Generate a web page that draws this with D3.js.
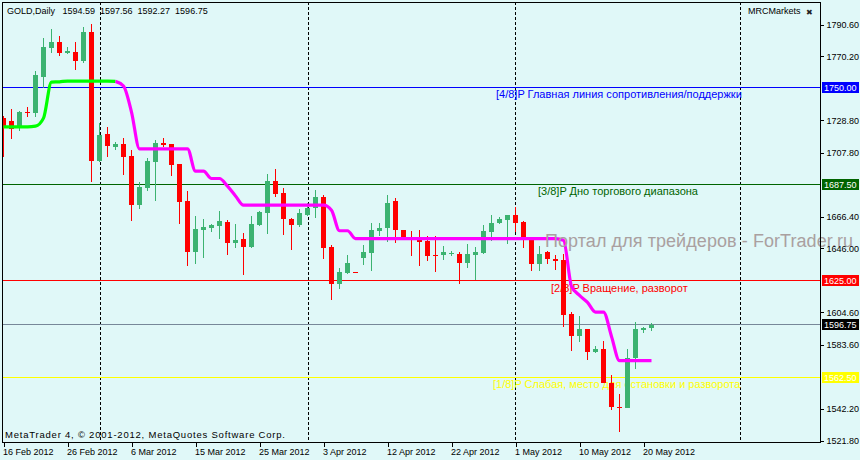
<!DOCTYPE html>
<html><head><meta charset="utf-8">
<script src="https://cdn.jsdelivr.net/npm/d3@7"></script>
<style>
html,body{margin:0;padding:0;background:#e0f8f8;}
svg{display:block;}
text{font-family:"Liberation Sans",Arial,sans-serif;}
</style></head><body>
<svg id="chart" width="860" height="460"></svg>
<script>
// ---------------- DATA ----------------
const symbolTitle = "GOLD,Daily";
const lastQuote = [1594.59, 1597.56, 1592.27, 1596.75]; // O H L C of last bar
const openP = [1730.21,1728.27,1723.74,1734.2,1733.64,1756.95,1775.72,1779.41,1772.09,1773.13,
1767.11,1785.88,1702.38,1719.86,1711.64,1713.39,1705.62,1673.90,1685.10,1701.74,
1714.23,1713.39,1700.44,1676.49,1643.68,1657.92,1659.21,1660.31,1662.90,1649.50,
1651.90,1646.91,1660.96,1668.92,1689.44,1681.87,1665.29,1660.96,1667.43,1672.41,
1679.28,1646.91,1623.22,1630.08,1630.99,1639.79,1643.03,1657.27,1659.21,1676.49,
1657.72,1653.00,1651.70,1650.60,1641.54,1641.99,1642.84,1642.64,1636.56,1641.99,
1643.03,1656.62,1662.45,1664.65,1667.43,1662.90,1652.35,1635.72,1643.68,1639.41,
1638.30,1603.81,1589.11,1593.64,1578.95,1580.70,1558.89,1543.48,1542.97,1575.07,
1593.45,1594.59];
const highP = [1731.51,1736.04,1734.75,1737.33,1760.83,1782.19,1787.63,1783.29,1776.36,1779.21,
1789.31,1791.06,1726.78,1724.58,1714.87,1717.27,1709.50,1688.98,1704.13,1715.97,
1717.27,1713.70,1700.80,1682.97,1666.78,1665.29,1661.61,1670.02,1664.65,1662.06,
1656.23,1666.78,1670.02,1693.97,1697.20,1684.71,1665.70,1671.31,1675.20,1683.61,
1680.83,1648.01,1633.58,1641.54,1630.99,1648.47,1662.71,1662.71,1680.38,1678.63,
1658.00,1657.27,1657.72,1653.84,1653.84,1647.37,1644.32,1643.68,1649.11,1646.91,
1660.96,1667.88,1666.33,1667.80,1672.80,1663.55,1653.39,1647.37,1644.10,1641.54,
1642.19,1604.84,1602.25,1593.96,1582.64,1585.88,1564.32,1552.03,1580.70,1598.37,
1594.90,1597.56];
const lowP = [1704.97,1716.62,1721.80,1730.86,1731.06,1749.44,1772.09,1770.54,1771.96,1761.28,
1765.62,1688.98,1702.00,1705.17,1709.50,1693.32,1663.74,1671.31,1682.97,1676.69,
1711.64,1692.87,1661.61,1634.62,1636.17,1639.79,1656.62,1651.90,1641.54,1646.52,
1628.60,1646.40,1660.64,1655.13,1679.28,1654.49,1644.78,1659.86,1667.10,1665.94,
1639.41,1612.41,1619.99,1629.70,1630.34,1635.07,1631.38,1654.03,1650.15,1649.50,
1651.25,1641.09,1634.42,1637.85,1630.73,1638.30,1640.89,1623.22,1633.58,1625.36,
1642.51,1650.80,1662.06,1649.11,1656.62,1646.52,1631.38,1631.38,1635.72,1631.83,
1595.13,1579.60,1585.42,1574.03,1578.30,1558.70,1541.67,1527.17,1542.50,1567.75,
1591.25,1592.27];
const closeP = [1723.74,1723.09,1734.10,1734.0,1758.05,1776.36,1779.41,1772.09,1773.58,1767.11,
1785.88,1702.58,1719.21,1712.29,1713.58,1705.17,1673.90,1685.75,1702.38,1714.23,
1712.74,1699.99,1676.04,1643.68,1658.37,1659.66,1660.96,1663.55,1649.50,1651.25,
1646.91,1662.06,1669.37,1689.44,1681.22,1664.84,1661.15,1668.92,1672.41,1679.28,
1646.27,1623.09,1630.73,1636.56,1630.34,1643.68,1657.72,1659.47,1675.65,1658.18,
1652.74,1651.70,1650.15,1641.09,1641.09,1643.68,1643.16,1636.82,1642.19,1643.68,
1657.08,1662.71,1665.29,1667.43,1662.71,1652.35,1636.17,1642.19,1639.41,1637.85,
1603.16,1589.31,1593.64,1578.95,1581.15,1558.89,1543.35,1543.16,1575.33,1593.64,
1594.60,1596.75];
// trend-line indicator value per bar
const trendLine = [1724.58,1724.58,1724.58,1724.58,1725.03,1730.21,1753.52,1753.70,1754.16,1754.16,
1754.16,1754.16,1754.16,1754.16,1753.96,1750.93,1734.10,1710.34,1710.34,1710.34,
1710.34,1710.34,1710.34,1710.34,1695.91,1695.91,1691.18,1691.18,1686.20,1679.92,
1673.90,1673.90,1673.90,1673.90,1673.90,1673.90,1673.90,1673.90,1673.90,1673.90,
1673.90,1670.67,1657.40,1657.40,1652.35,1652.35,1652.35,1652.35,1652.35,1652.35,
1652.35,1652.35,1652.35,1652.35,1652.35,1652.35,1652.35,1652.35,1652.35,1652.35,
1652.35,1652.35,1652.35,1652.35,1652.35,1652.35,1652.35,1652.35,1652.35,1652.35,
1651.25,1621.48,1615.65,1611.12,1604.84,1604.84,1589.11,1573.39,1573.39,1573.39,
1573.39,1573.39];
const trendUpLastBar = 14; // up-trend (green) up to this bar, down-trend (magenta) after
const xTickBars = [0,8,16,24,32,40,48,56,64,72,80];
const xTickLabels = ["16 Feb 2012","26 Feb 2012","6 Mar 2012","15 Mar 2012","25 Mar 2012","3 Apr 2012",
"12 Apr 2012","22 Apr 2012","1 May 2012","10 May 2012","20 May 2012"];
const yTickValues = [1790.60,1770.20,1728.80,1707.80,1666.40,1646.00,1604.60,1583.60,1542.20,1521.80];
const separatorBars = [12, 38, 64, 92.1];
const levelPrices = [1750.00, 1687.50, 1625.00, 1562.50];
const levelLabels = ["[4/8]P Главная линия сопротивления/поддержки","[3/8]P Дно торгового диапазона",
"[2/8]P Вращение, разворот","[1/8]P Слабая, место для остановки и разворота"];
const bidPrice = 1596.75;
const brokerName = "MRCMarkets";
const watermark = "Портал для трейдеров - ForTrader.ru";
const copyrightText = "MetaTrader 4, © 2001-2012, MetaQuotes Software Corp.";

// ---------------- STYLE / LAYOUT ----------------
const BG = "#e0f8f8", BULL = "#3cb371", BEAR = "#ff0000";
const levelColors = ["#0000ff", "#006400", "#ff0000", "#ffff00"];
const levelTextX = [496, 538, 551, 493];
const L = 2, T = 2, R = 820, B = 442;

const svg = d3.select("#chart");
svg.append("rect").attr("width", 860).attr("height", 460).attr("fill", BG);
svg.append("defs").append("clipPath").attr("id", "pc")
  .append("rect").attr("x", L + 1).attr("y", T + 1).attr("width", R - L - 1).attr("height", B - T - 1);

const x = d3.scaleLinear().domain([0, 81]).range([3.5, 651.5]);
const y = d3.scaleLinear().domain([1521.8, 1790.6]).range([440.5, 24.7]);
const bars = d3.range(openP.length).map(i => ({i, o: openP[i], h: highP[i], l: lowP[i], c: closeP[i]}));

const g = svg.append("g").attr("clip-path", "url(#pc)");

// period separators
g.selectAll("line.sep").data(separatorBars).join("line")
  .attr("x1", d => Math.round(x(d)) + 0.5).attr("x2", d => Math.round(x(d)) + 0.5)
  .attr("y1", T).attr("y2", B)
  .attr("stroke", "#000").attr("stroke-width", 1).attr("stroke-dasharray", "3,2");

// horizontal levels
const rowY = v => Math.floor(y(v)) + 0.5;
g.selectAll("line.lvl").data(levelPrices).join("line")
  .attr("x1", L).attr("x2", R).attr("y1", d => rowY(d)).attr("y2", d => rowY(d))
  .attr("stroke", (d, k) => levelColors[k]).attr("stroke-width", 1);
g.append("line").attr("x1", L).attr("x2", R).attr("y1", rowY(bidPrice)).attr("y2", rowY(bidPrice))
  .attr("stroke", "#778899").attr("stroke-width", 1);

g.selectAll("text.lvl").data(levelPrices).join("text")
  .attr("x", (d, k) => levelTextX[k]).attr("y", d => y(d) + 10.8)
  .attr("fill", (d, k) => levelColors[k]).attr("font-size", "11px")
  .text((d, k) => levelLabels[k]);

// candles
const cg = g.append("g").attr("shape-rendering", "crispEdges");
cg.selectAll("line.wick").data(bars).join("line")
  .attr("x1", d => x(d.i)).attr("x2", d => x(d.i))
  .attr("y1", d => y(d.h)).attr("y2", d => y(d.l))
  .attr("stroke", d => d.c >= d.o ? BULL : BEAR).attr("stroke-width", 1);
cg.selectAll("rect.body").data(bars).join("rect")
  .attr("x", d => x(d.i) - 2.5).attr("width", 5)
  .attr("y", d => Math.min(y(d.o), y(d.c)))
  .attr("height", d => Math.max(1, Math.abs(y(d.o) - y(d.c))))
  .attr("fill", d => d.c >= d.o ? BULL : BEAR);

// trend indicator
const lineGen = d3.line().x(d => x(d.i)).y(d => y(d.v)).curve(d3.curveMonotoneX);
const tl = trendLine.map((v, i) => ({i, v}));
g.append("path").datum(tl.slice(0, trendUpLastBar + 1)).attr("d", lineGen)
  .attr("fill", "none").attr("stroke", "#00ff00").attr("stroke-width", 3.2);
g.append("path").datum(tl.slice(trendUpLastBar)).attr("d", lineGen)
  .attr("fill", "none").attr("stroke", "#ff00ff").attr("stroke-width", 3.2);

// watermark
svg.append("text").attr("x", 545).attr("y", 246.5).attr("font-size", "18px")
  .attr("fill", "#aaa0a0").attr("textLength", 308).attr("lengthAdjust", "spacing").text(watermark);

// header / info texts
svg.append("text").attr("x", 7).attr("y", 14).attr("font-size", "9px").attr("fill", "#000")
  .attr("xml:space", "preserve").style("white-space", "pre")
  .text(symbolTitle + "   " + lastQuote.map(v => v.toFixed(2)).join("  "));
svg.append("text").attr("x", 748).attr("y", 14).attr("font-size", "9px").attr("fill", "#000").text(brokerName);
svg.append("text").attr("x", 806).attr("y", 15).attr("font-size", "8px").attr("fill", "#222")
  .attr("font-family", "DejaVu Sans").text("✖");
svg.append("text").attr("x", 5).attr("y", 437.5).attr("font-size", "9.5px").attr("fill", "#000")
  .attr("textLength", 280).attr("lengthAdjust", "spacing").text(copyrightText);

// frame
svg.append("rect").attr("x", L + 0.5).attr("y", T + 0.5).attr("width", R - L).attr("height", B - T)
  .attr("fill", "none").attr("stroke", "#000").attr("stroke-width", 1).attr("shape-rendering", "crispEdges");

// y axis
const yAxis = d3.axisRight(y).tickValues(yTickValues).tickFormat(d3.format(".2f")).tickSize(3).tickPadding(3);
const ya = svg.append("g").attr("transform", `translate(${R + 0.5},0)`).call(yAxis);
ya.select(".domain").remove();
ya.selectAll("text").attr("font-size", "9px").attr("font-family", "Liberation Sans, Arial, sans-serif").attr("fill", "#000");
ya.selectAll("line").attr("stroke", "#000").attr("shape-rendering", "crispEdges");

// x axis
const xAxis = d3.axisBottom(x).tickValues(xTickBars).tickFormat((d, k) => xTickLabels[k]).tickSize(4);
const xa = svg.append("g").attr("transform", `translate(0,${B + 0.5})`).call(xAxis);
xa.select(".domain").remove();
xa.selectAll("text").attr("font-size", "9px").attr("font-family", "Liberation Sans, Arial, sans-serif")
  .attr("fill", "#000").attr("text-anchor", "start").attr("x", -1).attr("y", 12.5).attr("dy", 0);
xa.selectAll("line").attr("stroke", "#000").attr("shape-rendering", "crispEdges");

// price labels on the axis
const boxes = levelPrices.map((p, k) => ({p, bg: levelColors[k]})).concat([{p: bidPrice, bg: "#000000"}]);
const bx = svg.append("g");
bx.selectAll("rect").data(boxes).join("rect")
  .attr("x", R + 2).attr("y", d => Math.floor(y(d.p)) - 5).attr("width", 37).attr("height", 11)
  .attr("fill", d => d.bg).attr("shape-rendering", "crispEdges");
bx.selectAll("text").data(boxes).join("text")
  .attr("x", R + 4).attr("y", d => y(d.p) + 3.5).attr("font-size", "9px").attr("fill", "#fff")
  .text(d => d.p.toFixed(2));
</script>
</body></html>
